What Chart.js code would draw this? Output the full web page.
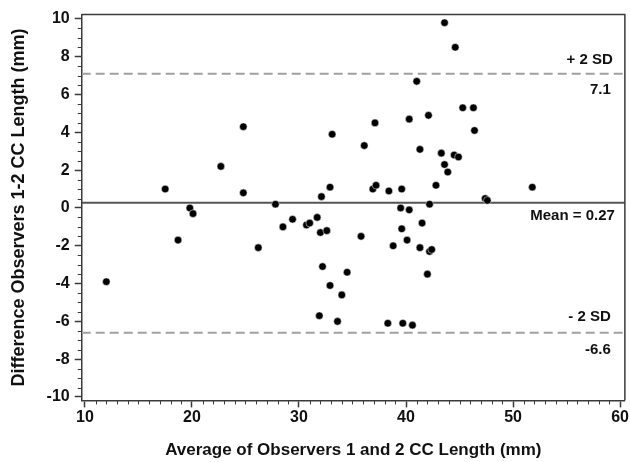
<!DOCTYPE html>
<html>
<head>
<meta charset="utf-8">
<script src="https://cdn.jsdelivr.net/npm/chart.js@4.4.0/dist/chart.umd.min.js"></script>
<style>
  body { margin: 0; background: #fff; }
  #wrap { width: 630px; height: 462px; }
</style>
</head>
<body>
<div id="wrap"><canvas id="chart1"></canvas></div>
<script>
// Bland-Altman data: average of observers (mm) vs difference (mm)
var avgLength = [
  12.0, 17.5, 18.7, 19.8, 20.1, 22.7, 24.8, 24.8, 26.2, 27.8,
  28.5, 29.4, 30.7, 31.0, 31.7, 32.0, 32.1, 32.2, 32.6, 31.9,
  32.9, 32.9, 33.1, 33.6, 34.0, 34.5, 35.8, 36.1, 36.9, 37.1,
  37.2, 38.3, 38.4, 38.8, 39.5, 39.6, 39.6, 39.7, 40.1, 40.3,
  40.3, 40.6, 41.0, 41.3, 41.3, 41.5, 42.1, 42.0, 42.2, 42.2,
  42.4, 42.8, 43.3, 43.6, 43.6, 43.9, 44.5, 44.6, 44.9, 45.3,
  46.3, 46.4, 47.4, 47.6, 51.8
];
var diffLength = [
  -3.9, 1.0, -1.7, 0.0, -0.3, 2.2, 4.3, 0.8, -2.1, 0.2,
  -1.0, -0.6, -0.9, -0.8, -0.5, -1.3, 0.6, -3.1, -1.2, -5.7,
  1.1, -4.1, 3.9, -6.0, -4.6, -3.4, -1.5, 3.3, 1.0, 4.5,
  1.2, -6.1, 0.9, -2.0, 0.0, -1.1, 1.0, -6.1, -1.7, -0.1,
  4.7, -6.2, 6.7, -2.1, 3.1, -0.8, 4.9, -3.5, -2.3, 0.2,
  -2.2, 1.2, 2.9, 9.8, 2.3, 1.9, 2.8, 8.5, 2.7, 5.3,
  5.3, 4.1, 0.5, 0.4, 1.1
];
var meanDiff = 0.27;
var upperLimit = 7.1;
var lowerLimit = -6.6;
var xTicks = [10, 20, 30, 40, 50, 60];
var yTicks = [-10, -8, -6, -4, -2, 0, 2, 4, 6, 8, 10];

var fontFam = "'Liberation Sans', Arial, sans-serif";
var axisColor = '#3a3a3a';

var points = avgLength.map(function(v, i) { return { x: v, y: diffLength[i] }; });
function hline(v) { return [{ x: 9.7, y: v }, { x: 60.45, y: v }]; }

var extras = {
  id: 'extras',
  afterDraw: function(chart) {
    var ctx = chart.ctx;
    var a = chart.chartArea;
    var xs = chart.scales.x, ys = chart.scales.y;
    ctx.save();
    // frame top and right
    ctx.strokeStyle = axisColor;
    ctx.lineWidth = 1.5;
    ctx.beginPath();
    ctx.moveTo(a.left, a.top);
    ctx.lineTo(a.right, a.top);
    ctx.lineTo(a.right, a.bottom);
    ctx.stroke();
    // minor ticks
    ctx.lineWidth = 1;
    ctx.beginPath();
    for (var v = 10; v <= 60; v += 1) {
      if (v % 10 === 0) continue;
      var px = Math.round(xs.getPixelForValue(v)) + 0.5;
      ctx.moveTo(px, a.bottom);
      ctx.lineTo(px, a.bottom + 4);
    }
    for (var w = -10; w <= 10; w += 0.5) {
      if (w % 2 === 0) continue;
      var py = Math.round(ys.getPixelForValue(w)) + 0.5;
      ctx.moveTo(a.left, py);
      ctx.lineTo(a.left - 4, py);
    }
    ctx.stroke();
    // line labels
    ctx.fillStyle = '#111';
    ctx.font = 'bold 15px ' + fontFam;
    ctx.textAlign = 'right';
    ctx.textBaseline = 'middle';
    var rx = a.right - 12;
    ctx.fillText('+ 2 SD', rx, ys.getPixelForValue(upperLimit) - 14);
    ctx.fillText(String(upperLimit), rx - 2, ys.getPixelForValue(upperLimit) + 16);
    ctx.fillText('Mean = ' + meanDiff, rx + 2, ys.getPixelForValue(meanDiff) + 13);
    ctx.fillText('- 2 SD', rx - 2, ys.getPixelForValue(lowerLimit) - 16);
    ctx.fillText(String(lowerLimit), rx - 2, ys.getPixelForValue(lowerLimit) + 17);
    ctx.restore();
  }
};

var datos = {
  type: 'scatter',
  data: {
    datasets: [{
      type: 'line',
      data: hline(upperLimit),
      borderColor: '#a0a0a0',
      borderWidth: 2,
      borderDash: [9, 5],
      pointRadius: 0,
      order: 2
    }, {
      type: 'line',
      data: hline(meanDiff),
      borderColor: '#555',
      borderWidth: 2,
      pointRadius: 0,
      order: 2
    }, {
      type: 'line',
      data: hline(lowerLimit),
      borderColor: '#a0a0a0',
      borderWidth: 2,
      borderDash: [9, 5],
      pointRadius: 0,
      order: 2
    }, {
      data: points,
      backgroundColor: '#000',
      borderColor: '#fff',
      borderWidth: 0.5,
      pointRadius: 3.8,
      order: 1
    }]
  },
  options: {
    responsive: true,
    maintainAspectRatio: false,
    animation: false,
    layout: { padding: { left: 8, top: 7, right: 4, bottom: 1 } },
    plugins: { legend: { display: false }, tooltip: { enabled: false } },
    scales: {
      x: {
        type: 'linear',
        min: 9.7,
        max: 60.45,
        afterBuildTicks: function(s) { s.ticks = xTicks.map(function(v) { return { value: v }; }); },
        grid: { drawOnChartArea: false, drawTicks: true, tickLength: 7, color: axisColor, tickWidth: 1.5 },
        border: { display: true, color: axisColor, width: 1.5 },
        ticks: { color: '#111', padding: 1, maxRotation: 0, font: { family: fontFam, size: 16, weight: 'bold' } },
        title: { display: true, text: 'Average of Observers 1 and 2 CC Length (mm)', color: '#111',
                 padding: { top: 12, bottom: 0 }, font: { family: fontFam, size: 17, weight: 'bold' } }
      },
      y: {
        type: 'linear',
        min: -10.18,
        max: 10.23,
        afterBuildTicks: function(s) { s.ticks = yTicks.map(function(v) { return { value: v }; }); },
        grid: { drawOnChartArea: false, drawTicks: true, tickLength: 7, color: axisColor, tickWidth: 1.5 },
        border: { display: true, color: axisColor, width: 1.5 },
        ticks: { color: '#111', padding: 5, font: { family: fontFam, size: 16, weight: 'bold' } },
        title: { display: true, text: 'Difference Observers 1-2 CC Length (mm)', color: '#111',
                 padding: { top: 0, bottom: 12 }, font: { family: fontFam, size: 18, weight: 'bold' } }
      }
    }
  },
  plugins: [extras]
};

var canvas = document.getElementById('chart1').getContext('2d');
window.scatter = new Chart(canvas, datos);
</script>
</body>
</html>
